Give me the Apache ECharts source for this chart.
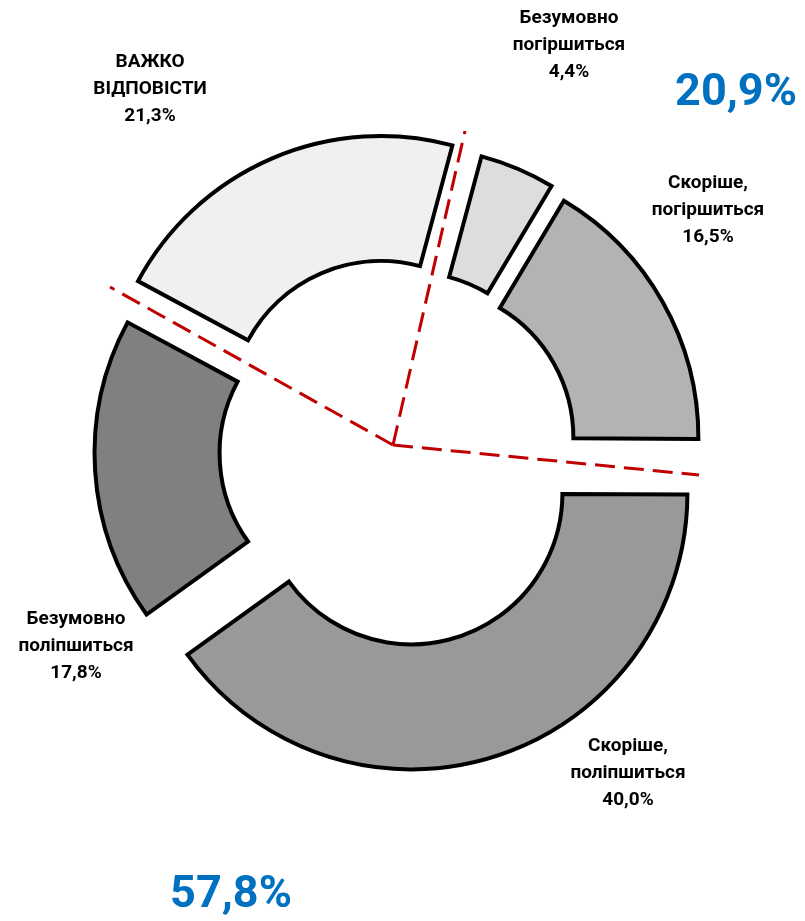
<!DOCTYPE html>
<html><head><meta charset="utf-8">
<script src="https://cdn.jsdelivr.net/npm/echarts@6/dist/echarts.min.js"></script>
<style>html,body{margin:0;padding:0;background:#fff}#c{width:805px;height:921px}</style>
</head><body><div id="c"></div>
<script>
const categories = ['Безумовно\nпогіршиться', 'Скоріше,\nпогіршиться', 'Скоріше,\nполіпшиться', 'Безумовно\nполіпшиться', 'ВАЖКО\nВІДПОВІСТИ'];
const values = [4.4, 16.5, 40.0, 17.8, 21.3];
const worseGroup = [0, 1];
const betterGroup = [2, 3];

// styling / layout (not data)
const colors = ['#DDDDDD', '#B3B3B3', '#999999', '#808080', '#F0F0F0'];
const explode = [31, 28, 44, 27.5, 43];
const labelPos = [[569, 45], [708, 210], [628, 773], [76, 646], [150, 89]];
const fmt = v => v.toFixed(1).replace('.', ',') + '%';
const sumOf = idx => idx.reduce((s, i) => s + values[i], 0);

const chart = echarts.init(document.getElementById('c'), null, {renderer: 'canvas'});

const series = values.map((_, k) => ({
  type: 'pie',
  center: [398, 451.5],
  radius: [151, 276],
  startAngle: 75,
  clockwise: true,
  selectedMode: 'multiple',
  selectedOffset: explode[k],
  avoidLabelOverlap: false,
  animation: false,
  silent: true,
  emphasis: {disabled: true},
  labelLine: {show: false},
  label: {show: false},
  data: values.map((v, i) => {
    const vis = {color: colors[i], borderColor: '#000', borderWidth: 4, borderJoin: 'miter'};
    const hid = {color: 'rgba(0,0,0,0)', borderWidth: 0};
    return {
      name: categories[i],
      value: v,
      selected: i === k,
      itemStyle: i === k ? vis : hid,
      select: {itemStyle: i === k ? vis : hid}
    };
  })
}));

const labelGraphics = values.map((v, i) => ({
  type: 'text', z: 10, x: labelPos[i][0], y: labelPos[i][1],
  style: {
    text: categories[i] + '\n' + fmt(v),
    font: 'bold 19px Roboto',
    lineHeight: 27,
    fill: '#000',
    align: 'center',
    verticalAlign: 'middle'
  }
}));

const dash = {stroke: '#C00000', lineWidth: 3, lineDash: [20, 9]};
chart.setOption({
  animation: false,
  backgroundColor: '#fff',
  series: series,
  graphic: [
    {type: 'line', z: 10, shape: {x1: 393, y1: 445, x2: 465, y2: 131}, style: dash},
    {type: 'line', z: 10, shape: {x1: 393, y1: 445, x2: 699, y2: 475}, style: dash},
    {type: 'line', z: 10, shape: {x1: 393, y1: 445, x2: 110, y2: 287}, style: dash},
    {type: 'text', z: 10, x: 736, y: 94, style: {text: fmt(sumOf(worseGroup)), font: 'bold 45px Roboto', fill: '#0070C0', align: 'center', verticalAlign: 'middle'}},
    {type: 'text', z: 10, x: 231, y: 896, style: {text: fmt(sumOf(betterGroup)), font: 'bold 45px Roboto', fill: '#0070C0', align: 'center', verticalAlign: 'middle'}}
  ].concat(labelGraphics)
});
</script>
</body></html>
